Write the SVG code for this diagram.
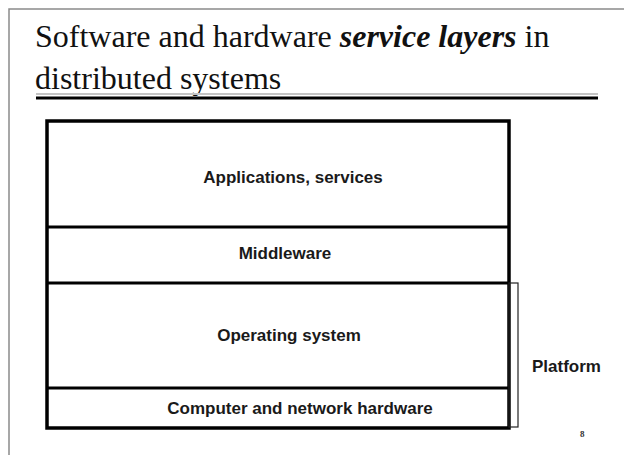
<svg xmlns="http://www.w3.org/2000/svg" width="624" height="455" viewBox="0 0 624 455">
  <style>
    .title { font-family: "Liberation Serif", "Times New Roman", serif; font-size: 32px; fill: #111; }
    .em { font-weight: bold; font-style: italic; }
    .label { font-family: "Liberation Sans", Arial, sans-serif; font-size: 17px; font-weight: bold; fill: #1a1a1a; }
    .layer { fill: #fff; stroke: #000; stroke-width: 3.5; }
    .divider { stroke: #000; stroke-width: 3; }
    .bracket { fill: none; stroke: #222; stroke-width: 1.2; }
  </style>

  <!-- slide background and frame -->
  <rect x="0" y="0" width="624" height="455" fill="#fff"/>
  <path d="M9 455 V9 H624" fill="none" stroke="#8a8a8a" stroke-width="1.5"/>

  <!-- slide title -->
  <g id="title">
    <text class="title" x="35" y="47">Software and hardware <tspan class="em">service layers</tspan> in</text>
    <text class="title" x="35" y="89">distributed systems</text>
    <line x1="36" y1="94" x2="598" y2="94" stroke="#c4c4c4" stroke-width="2"/>
    <line x1="36" y1="98" x2="598" y2="98" stroke="#000" stroke-width="3"/>
  </g>

  <!-- layer stack -->
  <g id="stack">
    <rect class="layer" x="47" y="121" width="462" height="307"/>
  </g>

  <g id="connectors">
    <line class="divider" x1="47" y1="227" x2="509" y2="227"/>
    <line class="divider" x1="47" y1="283" x2="509" y2="283"/>
    <line class="divider" x1="47" y1="388" x2="509" y2="388"/>
  </g>

  <g id="applications">
    <text class="label" x="293" y="183" text-anchor="middle">Applications, services</text>
  </g>
  <g id="middleware">
    <text class="label" x="285" y="259" text-anchor="middle">Middleware</text>
  </g>
  <g id="operating-system">
    <text class="label" x="289" y="341" text-anchor="middle">Operating system</text>
  </g>
  <g id="hardware">
    <text class="label" x="300" y="414" text-anchor="middle">Computer and network hardware</text>
  </g>

  <!-- platform bracket -->
  <g id="platform">
    <rect class="bracket" x="509" y="283" width="9" height="144"/>
    <text class="label" x="532" y="372">Platform</text>
  </g>

  <!-- page number -->
  <g id="page-number">
    <text x="580" y="437" font-family="'Liberation Serif', 'Times New Roman', serif" font-size="9" font-weight="bold" fill="#333">8</text>
  </g>
</svg>
